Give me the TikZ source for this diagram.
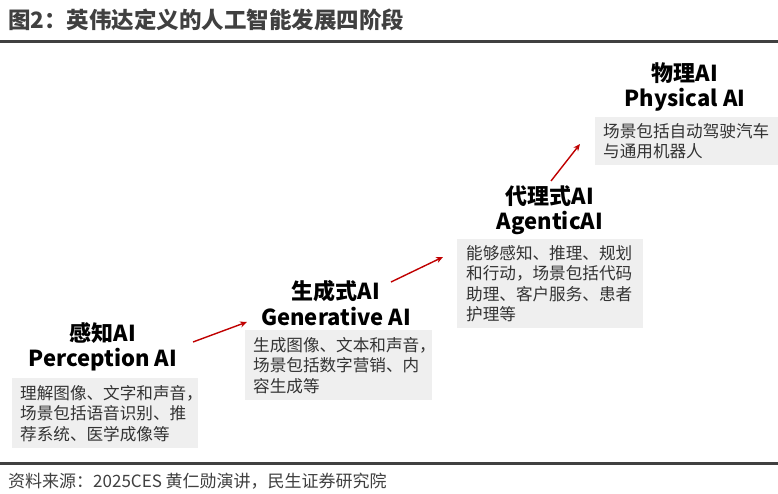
\documentclass[tikz,border=0pt]{standalone}
\usepackage{fontspec}
\setmainfont{Noto Sans CJK SC}
\usetikzlibrary{arrows.meta}
\definecolor{titlegray}{HTML}{404040}
\definecolor{boxgray}{HTML}{EFEFEF}
\definecolor{bodytext}{HTML}{333333}
\definecolor{arrowred}{HTML}{C00000}
\tikzset{
  heading/.style={font=\fontsize{22}{25.5}\selectfont\bfseries, align=center, text=black, inner sep=0pt},
  panel/.style={fill=boxgray, draw=none, anchor=north west, inner sep=0pt},
  body/.style={font=\fontsize{16.6}{20.5}\selectfont, align=left, text=bodytext, inner sep=0pt, anchor=west},
  stagearrow/.style={draw=arrowred, line width=1.4pt, -{Stealth[length=7pt,width=6pt]}},
  rule/.style={draw=titlegray, line width=3pt}
}
\begin{document}
\begin{tikzpicture}[x=1pt,y=-1pt]
\useasboundingbox (0,0) rectangle (778,494);
\fill[white] (0,0) rectangle (778,494);
% title
\node[anchor=west, inner sep=0pt, text=titlegray, font=\fontsize{22.5}{24}\selectfont\bfseries] (title) at (8,20) {图2：英伟达定义的人工智能发展四阶段};
\coordinate (rtl) at (0,42);
\coordinate (rtr) at (778,42);
\draw[rule] (rtl) -- (rtr);
\coordinate (rbl) at (0,463);
\coordinate (rbr) at (778,463);
\draw[rule] (rbl) -- (rbr);
% footer
\node[anchor=west, inner sep=0pt, text=titlegray, font=\fontsize{17}{20}\selectfont] (foot) at (8,481) {资料来源：2025CES 黄仁勋演讲，民生证券研究院};
% stage 1
\node[heading] (h1) at (103,347) {感知AI\\Perception AI};
\node[panel, minimum width=186pt, minimum height=70pt] (b1) at (12,378) {};
\node[body] (t1) at ([xshift=8pt]b1.west) {理解图像、文字和声音，\\场景包括语音识别、推\\荐系统、医学成像等};
% stage 2
\node[heading] (h2) at (336,303) {生成式AI\\Generative AI};
\node[panel, minimum width=187pt, minimum height=70pt] (b2) at (245,330) {};
\node[body] (t2) at ([xshift=8pt]b2.west) {生成图像、文本和声音，\\场景包括数字营销、内\\容生成等};
% stage 3
\node[heading] (h3) at (550,210) {代理式AI\\AgenticAI};
\node[panel, minimum width=186pt, minimum height=89pt] (b3) at (457,239) {};
\node[body] (t3) at ([xshift=9pt]b3.west) {能够感知、推理、规划\\和行动，场景包括代码\\助理、客户服务、患者\\护理等};
% stage 4
\node[heading] (h4) at (685,87) {物理AI\\Physical AI};
\node[panel, minimum width=183pt, minimum height=48pt] (b4) at (595,117) {};
\node[body] (t4) at ([xshift=8pt]b4.west) {场景包括自动驾驶汽车\\与通用机器人};
% arrows
\coordinate (a1s) at (193,342);
\coordinate (a1e) at (247,322);
\draw[stagearrow] (a1s) -- (a1e);
\coordinate (a2s) at (391,282);
\coordinate (a2e) at (443,257);
\draw[stagearrow] (a2s) -- (a2e);
\coordinate (a3s) at (551,181);
\coordinate (a3e) at (580,144);
\draw[stagearrow] (a3s) -- (a3e);
\end{tikzpicture}
\end{document}
